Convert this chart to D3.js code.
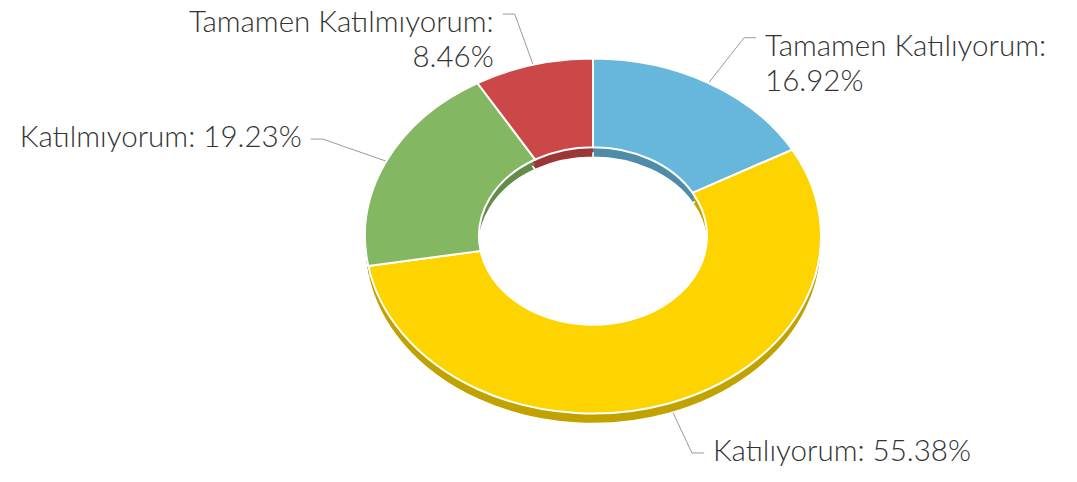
<!DOCTYPE html>
<html><head><meta charset="utf-8">
<script src="https://cdn.jsdelivr.net/npm/d3@7"></script>
<style>html,body{margin:0;padding:0;background:#fff;}svg{display:block;}</style>
</head><body>
<svg id="chart" width="1077" height="482"></svg>
<script>
const categories = ["Tamamen Katılıyorum", "Katılıyorum", "Katılmıyorum", "Tamamen Katılmıyorum"];
const percents = [16.92, 55.38, 19.23, 8.46];
const colors = ["#67b7dc", "#fdd400", "#84b761", "#cc4748"];

const W = 1077, H = 482;
const cx = 593, cy = 236, rx = 228, ry = 177.5, depth = 10;
const innerFrac = 0.5;
const k = ry / rx;
const labelRx = 298, labelRy = 230;
const fontFamily = "Lato, 'Open Sans', sans-serif";

const svg = d3.select("#chart");
const data = categories.map((c, i) => ({cat: c, val: percents[i], color: colors[i]}));
const pie = d3.pie().value(d => d.val).sort(null);
const arcs = pie(data);
const arc = d3.arc().innerRadius(rx * innerFrac).outerRadius(rx);

// font size fit
const probe = svg.append("text").attr("font-family", fontFamily).attr("font-weight", 300).attr("font-size", 20).text("Katılmıyorum: 19.23%");
const pw = probe.node().getComputedTextLength();
probe.remove();
const fs = 20 * 282 / pw;
const lineH = 35;
const maxLabelW = 300;

// labels (behind pie)
const gLab = svg.append("g");
arcs.forEach(a => {
  const mid = (a.startAngle + a.endAngle) / 2;
  const s = Math.sin(mid), c = Math.cos(mid);
  const ax = cx + rx * s, ay = cy - ry * c;
  const ex = cx + labelRx * s, ey = cy - labelRy * c;
  const left = s < 0;
  const hx = ex + (left ? -12 : 12);
  gLab.append("path")
    .attr("d", d3.line()([[ax, ay], [ex, ey], [hx, ey]]))
    .attr("fill", "none").attr("stroke", "#9a9a9a").attr("stroke-width", 1);
  const txt = `${a.data.cat}: ${a.data.val.toFixed(2)}%`;
  const tx = hx + (left ? -9 : 9);
  const t = gLab.append("text")
    .attr("font-family", fontFamily).attr("font-weight", 300).attr("font-size", fs)
    .attr("fill", "#333")
    .attr("text-anchor", left ? "end" : "start");
  t.text(txt);
  let lines = [txt];
  if (t.node().getComputedTextLength() > maxLabelW) {
    lines = [`${a.data.cat}:`, `${a.data.val.toFixed(2)}%`];
  }
  t.text(null);
  const y0 = ey + 8 + (lines.length - 1) * 10;
  lines.forEach((ln, i) => {
    t.append("tspan").attr("x", tx).attr("y", y0 + i * lineH).text(ln);
  });
});

// bottom (side) layer
const gBot = svg.append("g").attr("transform", `translate(${cx},${cy + depth}) scale(1,${k})`);
gBot.selectAll("path").data(arcs).join("path")
  .attr("d", arc)
  .attr("fill", d => d3.color(d.data.color).darker(0.75))
  .attr("stroke", "#fff").attr("stroke-width", 1.5)
  .attr("vector-effect", "non-scaling-stroke");

// middle fill to join side walls
const gMid = svg.append("g").attr("transform", `translate(${cx},${cy + depth / 2}) scale(1,${k})`);
gMid.selectAll("path").data(arcs).join("path")
  .attr("d", arc)
  .attr("fill", d => d3.color(d.data.color).darker(0.75));

// top faces
const gTop = svg.append("g").attr("transform", `translate(${cx},${cy}) scale(1,${k})`);
gTop.selectAll("path").data(arcs).join("path")
  .attr("d", arc)
  .attr("fill", d => d.data.color)
  .attr("stroke", "#fff").attr("stroke-width", 2)
  .attr("vector-effect", "non-scaling-stroke");
</script>
</body></html>
